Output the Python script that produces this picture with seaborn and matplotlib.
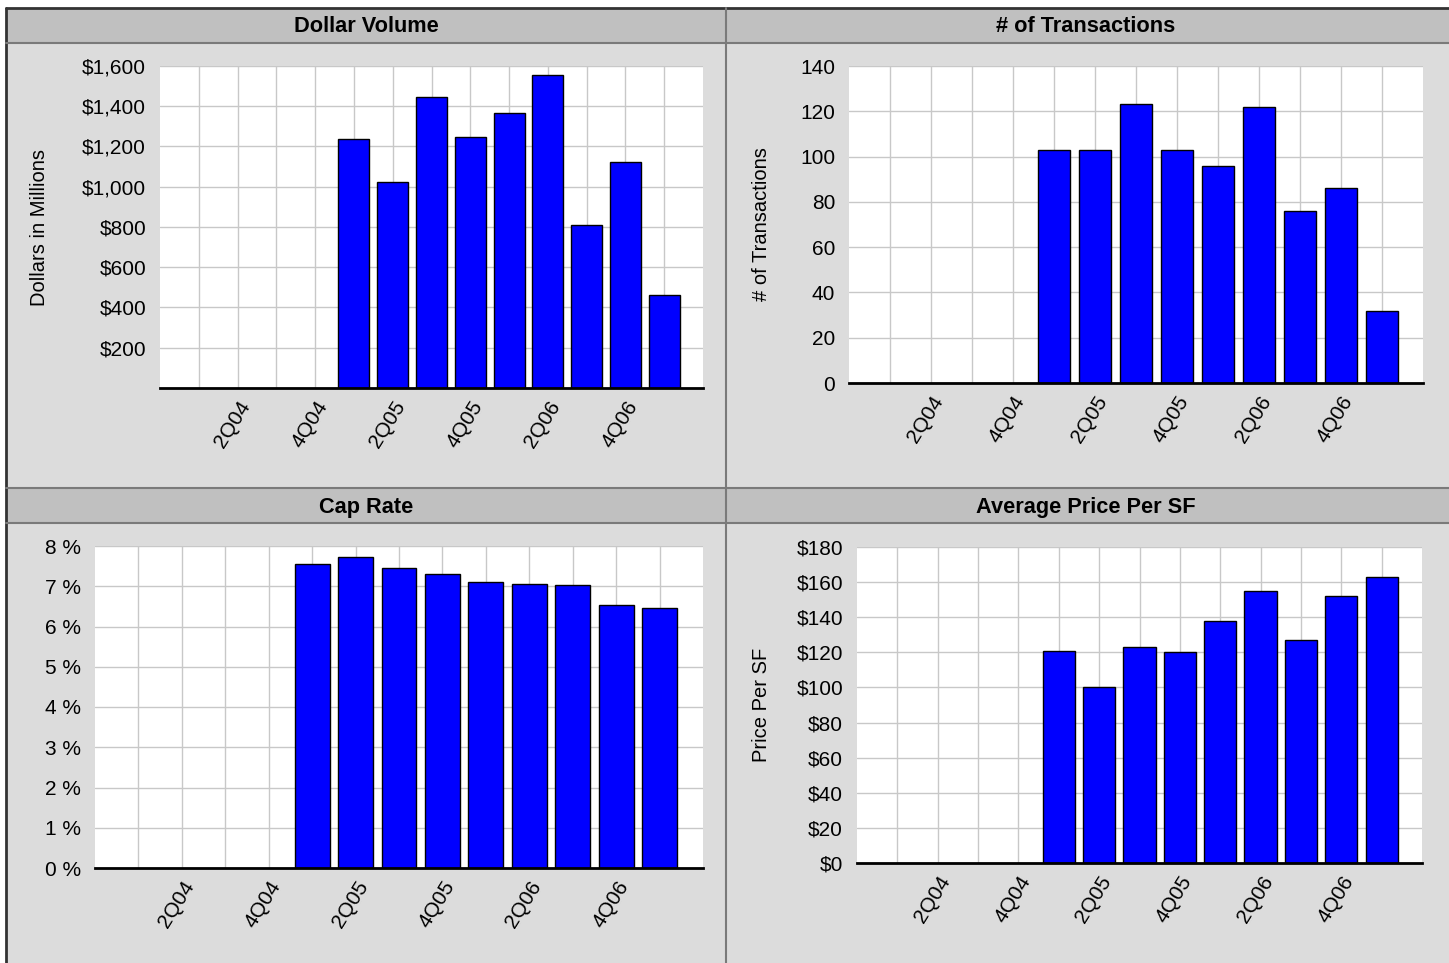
import matplotlib
matplotlib.use("Agg")
import matplotlib.pyplot as plt
import matplotlib.patches as patches
from matplotlib.lines import Line2D
import seaborn as sns

# quarters on the x axis (every other one labelled)
quarters = ['1Q04', '2Q04', '3Q04', '4Q04', '1Q05', '2Q05', '3Q05', '4Q05',
            '1Q06', '2Q06', '3Q06', '4Q06', '1Q07']
active_quarters = ['1Q05', '2Q05', '3Q05', '4Q05', '1Q06', '2Q06', '3Q06', '4Q06', '1Q07']

dollar_volume = [1235, 1025, 1448, 1247, 1364, 1556, 811, 1123, 463]   # $ millions
transactions = [103, 103, 123, 103, 96, 122, 76, 86, 32]
cap_rate = [7.55, 7.73, 7.45, 7.30, 7.11, 7.06, 7.03, 6.53, 6.46]       # %
price_per_sf = [121, 100, 123, 120, 138, 155, 127, 152, 163]

dv_ticks = [0, 200, 400, 600, 800, 1000, 1200, 1400, 1600]
tx_ticks = [0, 20, 40, 60, 80, 100, 120, 140]
cr_ticks = [0, 1, 2, 3, 4, 5, 6, 7, 8]
psf_ticks = [0, 20, 40, 60, 80, 100, 120, 140, 160, 180]

sns.set_style("white")
plt.rcParams['font.family'] = ['Liberation Sans', 'DejaVu Sans']

W, H = 1449, 963
fig = plt.figure(figsize=(W / 100, H / 100), dpi=100)
fig.patch.set_facecolor('white')

PANEL_BG = '#dcdcdc'
TITLE_BG = '#c0c0c0'
LINE_C = '#7a7a7a'


def px_rect(l, t, r, b):
    return [l / W, 1 - b / H, (r - l) / W, (b - t) / H]


def fig_box(l, t, r, b, color):
    fig.patches.append(patches.Rectangle((l / W, 1 - b / H), (r - l) / W, (b - t) / H,
                                         transform=fig.transFigure, facecolor=color,
                                         edgecolor='none', zorder=-3))


def fig_line(x0, y0, x1, y1, color=LINE_C, lw=1.5):
    fig.lines.append(Line2D([x0 / W, x1 / W], [1 - y0 / H, 1 - y1 / H],
                            transform=fig.transFigure, color=color, lw=lw, zorder=-2))


# panel backgrounds and title bars
fig_box(6, 8, 1449, 963, PANEL_BG)
fig_box(6, 8, 1449, 43, TITLE_BG)
fig_box(6, 488, 1449, 523, TITLE_BG)
fig_line(6, 8, 1449, 8, '#333333', 2)
fig_line(6, 8, 6, 963, '#333333', 2)
fig_line(6, 43, 1449, 43)
fig_line(6, 488, 1449, 488)
fig_line(6, 523, 1449, 523)
fig_line(726, 8, 726, 963)

titles = [("Dollar Volume", 366, 27), ("# of Transactions", 1086, 27),
          ("Cap Rate", 366, 507), ("Average Price Per SF", 1086, 507)]
for txt, x, y in titles:
    fig.text(x / W, 1 - y / H, txt, ha='center', va='center', fontsize=15.7,
             fontweight='bold', color='black')

xlabels = [q if i % 2 == 1 else '' for i, q in enumerate(quarters)]


def draw_panel(rect_px, values, ticks, ticklabels, ylabel, ylabel_x):
    l, t, r, b = rect_px
    ax = fig.add_axes(px_rect(l, t, r, b))
    sns.barplot(x=active_quarters, y=values, order=quarters, color='#0000ff',
                saturation=1, edgecolor='black', linewidth=1, width=0.8, ax=ax, zorder=3)
    ax.set_facecolor('white')
    ax.set_xlim(-1, 13)
    ax.set_ylim(ticks[0], ticks[-1])
    ax.set_xticks(range(len(quarters)))
    ax.set_xticklabels(xlabels, rotation=58, ha='right', rotation_mode='anchor', fontsize=15)
    ax.set_yticks(ticks)
    ax.set_yticklabels(ticklabels, fontsize=15)
    ax.tick_params(axis='both', length=0, labelcolor='black')
    ax.tick_params(axis='y', pad=10)
    ax.tick_params(axis='x', pad=7)
    ax.grid(True, color='#c8c8c8', lw=1)
    ax.set_axisbelow(True)
    for s in ['left', 'top', 'right']:
        ax.spines[s].set_visible(False)
    ax.spines['bottom'].set_color('black')
    ax.spines['bottom'].set_linewidth(2)
    ax.spines['bottom'].set_zorder(5)
    ax.set_xlabel('')
    if ylabel:
        ax.set_ylabel(ylabel, fontsize=14.5, color='black')
        ax.yaxis.set_label_coords((ylabel_x - l) / (r - l), 0.5)
    else:
        ax.set_ylabel('')
    return ax


draw_panel((160, 66, 703, 388), dollar_volume, dv_ticks,
           [''] + ['${:,}'.format(v) for v in dv_ticks[1:]], 'Dollars in Millions', 49)
draw_panel((849, 66, 1423, 383), transactions, tx_ticks,
           [str(v) for v in tx_ticks], '# of Transactions', 771)
draw_panel((95, 546, 703, 868), cap_rate, cr_ticks,
           ['{} %'.format(v) for v in cr_ticks], None, 0)
draw_panel((857, 547, 1422, 863), price_per_sf, psf_ticks,
           ['${}'.format(v) for v in psf_ticks], 'Price Per SF', 771)

fig.savefig('out.png', dpi=100)
